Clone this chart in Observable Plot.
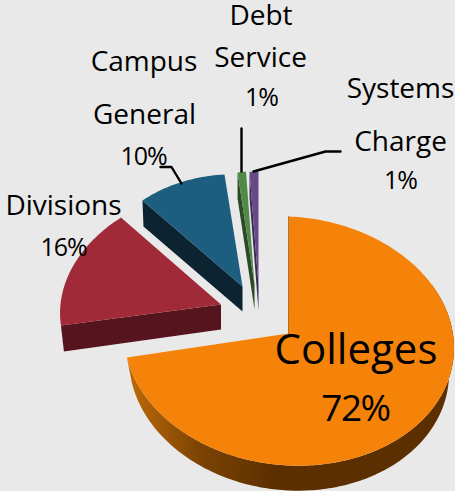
<!DOCTYPE html>
<html>
<head>
<meta charset="utf-8">
<script src="https://cdn.jsdelivr.net/npm/d3@7"></script>
<script src="https://cdn.jsdelivr.net/npm/@observablehq/plot@0.6"></script>
<style>
html,body{margin:0;padding:0;background:#e9e9e9;}
svg{display:block;}
</style>
</head>
<body>
<div id="chart"></div>
<script>
// Data
const categories = ["Colleges", "Divisions", "Campus General", "Debt Service", "Systems Charge"];
const shares = [72, 16, 10, 1, 1];

// Styles
const faceColors = ["#f5830a", "#a02a38", "#1c5d80", "#4f8a46", "#654a85"];
const wallColors = ["url(#collegesWall)", "#56141e", "#0c2432", "#2c4a26", "#3a2a52"];

// Layout of the exploded, tilted slices (pixel-like scale units)
const depth = 25;
const geometry = [
  {ax: 288, ay: 333, cx: 288.5, cy: 340.5, rx: 165, ry: 124.5, kx: 0, ky: 7, lean: 0},
  {ax: 220.5, ay: 304, cx: 220.5, cy: 304, rx: 160.4, ry: 118.2, kx: -13.4, ky: 1.13, lean: 3},
  {ax: 242, ay: 286, cx: 242, cy: 286, rx: 146.5, ry: 112.1, kx: -0.35, ky: 6.2, lean: 1},
  {ax: 254, ay: 284, cx: 254, cy: 284, rx: 135, ry: 113, kx: 0, ky: 0, lean: 0},
  {ax: 258, ay: 285, cx: 258, cy: 285, rx: 143, ry: 114, kx: 0, ky: 0, lean: 0}
];

const labelLines = [
  {text: "Debt", x: 260.5, y: 24, size: 28},
  {text: "Service", x: 260, y: 66, size: 28},
  {text: "1%", x: 261, y: 105, size: 25},
  {text: "Campus", x: 143.5, y: 70, size: 28},
  {text: "General", x: 144, y: 123, size: 28},
  {text: "10%", x: 143, y: 164, size: 25},
  {text: "Divisions", x: 63, y: 214, size: 28},
  {text: "16%", x: 63, y: 255, size: 25},
  {text: "Systems", x: 400, y: 97, size: 28},
  {text: "Charge", x: 400, y: 150, size: 28},
  {text: "1%", x: 400, y: 188, size: 25},
  {text: "Colleges", x: 355.5, y: 363, size: 42},
  {text: "72%", x: 355, y: 420, size: 37}
];
const leaders = [
  [[241, 128], [241, 171]],
  [[160, 166.5], [171, 166.5], [181, 183]],
  [[340, 151], [325, 151], [253, 171]]
];

// Geometry from the data
const arcs = d3.pie().sort(null).value(d => d)(shares);
const step = Math.PI / 180;
const rim = (g, t, dy = 0, scale = 1) => {
  const s = Math.sin(t), c = -Math.cos(t);
  return [g.cx + (g.rx * scale) * s + g.kx * c, g.cy + g.ry * c + g.ky * s + dy];
};
const faces = arcs.map((a, i) => {
  const g = geometry[i];
  const pts = [[g.ax, g.ay]];
  const n = Math.max(2, Math.ceil((a.endAngle - a.startAngle) / step));
  d3.range(n + 1).forEach(k => pts.push(rim(g, a.startAngle + (a.endAngle - a.startAngle) * k / n)));
  return pts;
});
const walls = arcs.map((a, i) => {
  const g = geometry[i];
  if (i === 0) {
    const from = a.endAngle, to = Math.PI / 3;
    const n = Math.ceil((from - to) / step);
    const ts = d3.range(n + 1).map(k => from + (to - from) * k / n);
    return [...ts.map(t => rim(g, t)), ...ts.slice().reverse().map(t => rim(g, t, depth, 0.97))];
  }
  const corner = rim(g, a.startAngle);
  return [corner, [g.ax, g.ay], [g.ax, g.ay + depth], [corner[0] + g.lean, corner[1] + depth + 1]];
});

const poly = (pts, fill, extra = {}) =>
  Plot.line(pts, {x: d => d[0], y: d => d[1], fill, stroke: "none", curve: "linear", ...extra});

const defs = () => {
  const d = d3.create("svg:defs");
  const g = d.append("linearGradient").attr("id", "collegesWall");
  [[0, "#c06a08"], [0.22, "#7c4404"], [0.45, "#5c2f00"], [1, "#5c2f00"]].forEach(([o, c]) =>
    g.append("stop").attr("offset", o).attr("stop-color", c));
  return d.node();
};

const font = "Open Sans";
const chart = Plot.plot({
  width: 455,
  height: 491,
  margin: 0,
  x: {domain: [0, 455], range: [0, 455], axis: null},
  y: {domain: [0, 491], range: [0, 491], axis: null},
  style: {background: "#e9e9e9", fontFamily: font},
  marks: [
    defs,
    ...walls.map((w, i) => poly(w, wallColors[i])),
    ...faces.map((f, i) => poly(f, faceColors[i])),
    Plot.line([[288, 216], [288, 333]], {x: d => d[0], y: d => d[1], stroke: "#9a5a10", strokeWidth: 0.8}),
    ...leaders.map(l => Plot.line(l, {x: d => d[0], y: d => d[1], stroke: "#000", strokeWidth: 2.4, curve: "linear"})),
    Plot.text(labelLines, {x: "x", y: "y", text: "text", fontSize: "size", fill: "#000", lineAnchor: "bottom", textAnchor: "middle", fontFamily: font})
  ]
});
// Percent figures in the reference are set tighter than the words
d3.select(chart).selectAll("text")
  .filter(function () { return this.textContent.includes("%"); })
  .attr("letter-spacing", function () { return this.textContent === "72%" ? -1.5 : -1; });
document.getElementById("chart").append(chart);
</script>
</body>
</html>
